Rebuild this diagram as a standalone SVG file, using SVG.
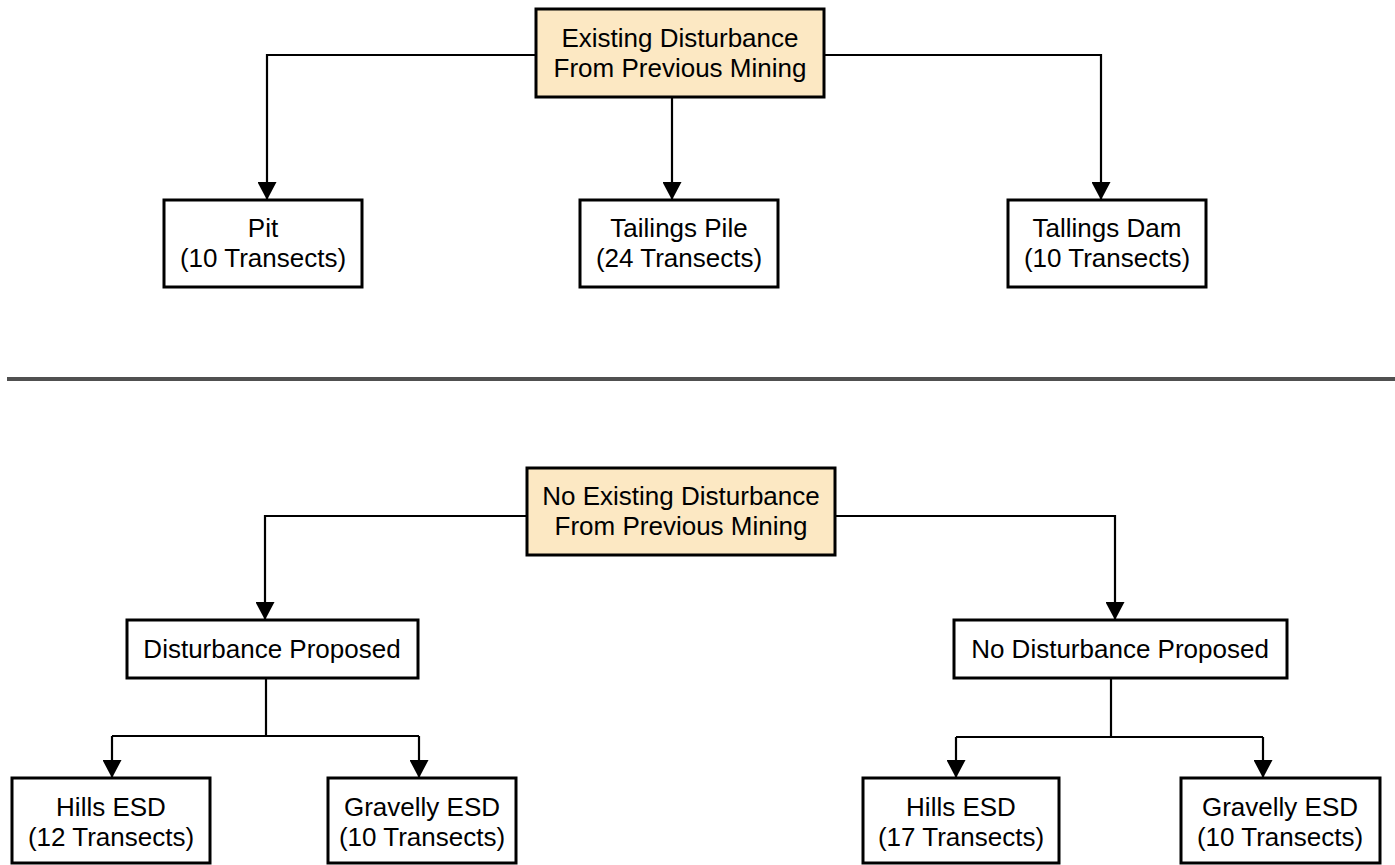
<svg xmlns="http://www.w3.org/2000/svg" width="1395" height="865" viewBox="0 0 1395 865">
<style>
.box{fill:#ffffff;stroke:#000;stroke-width:3}
.hdr{fill:#fce8c3;stroke:#000;stroke-width:3}
.t{font-family:"Liberation Sans",Arial,sans-serif;font-size:26px;fill:#000;text-anchor:middle}
.c{fill:none;stroke:#000;stroke-width:2.2}
</style>
<defs>
<marker id="ah" markerUnits="userSpaceOnUse" markerWidth="18" markerHeight="19" refX="17" refY="9.5" orient="auto" viewBox="0 0 18 19">
<path d="M0,0 L18,9.5 L0,19 z" fill="#000"/>
</marker>
</defs>
<rect x="0" y="0" width="1395" height="865" fill="#fff"/>
<g id="connectors">
<path class="c" d="M536,55 H267 V199" marker-end="url(#ah)"/>
<path class="c" d="M672,97 V199" marker-end="url(#ah)"/>
<path class="c" d="M824,55 H1101 V199" marker-end="url(#ah)"/>
<path class="c" d="M527,516 H265 V619" marker-end="url(#ah)"/>
<path class="c" d="M835,516 H1115 V619" marker-end="url(#ah)"/>
<path class="c" d="M266,678 V736"/>
<path class="c" d="M112,736 H419"/>
<path class="c" d="M112,736 V777" marker-end="url(#ah)"/>
<path class="c" d="M419,736 V777" marker-end="url(#ah)"/>
<path class="c" d="M1111,678 V737"/>
<path class="c" d="M956,737 H1263"/>
<path class="c" d="M956,737 V777" marker-end="url(#ah)"/>
<path class="c" d="M1263,737 V777" marker-end="url(#ah)"/>
</g>
<line id="separator" x1="7" y1="379" x2="1395" y2="379" stroke="#505050" stroke-width="4"/>
<g id="n-existing">
<rect class="hdr" x="536" y="9" width="288" height="88"/>
<text class="t" x="680" y="47">Existing Disturbance</text>
<text class="t" x="680" y="77">From Previous Mining</text>
</g>
<g id="n-pit">
<rect class="box" x="164" y="200" width="198" height="87"/>
<text class="t" x="263" y="237">Pit</text>
<text class="t" x="263" y="267">(10 Transects)</text>
</g>
<g id="n-tailings-pile">
<rect class="box" x="580" y="200" width="198" height="87"/>
<text class="t" x="679" y="237">Tailings Pile</text>
<text class="t" x="679" y="267">(24 Transects)</text>
</g>
<g id="n-tailings-dam">
<rect class="box" x="1008" y="200" width="198" height="87"/>
<text class="t" x="1107" y="237">Tallings Dam</text>
<text class="t" x="1107" y="267">(10 Transects)</text>
</g>
<g id="n-no-existing">
<rect class="hdr" x="527" y="468" width="308" height="87"/>
<text class="t" x="681" y="505">No Existing Disturbance</text>
<text class="t" x="681" y="535">From Previous Mining</text>
</g>
<g id="n-dist-proposed">
<rect class="box" x="127" y="620" width="291" height="58"/>
<text class="t" x="272" y="658">Disturbance Proposed</text>
</g>
<g id="n-no-dist-proposed">
<rect class="box" x="954" y="620" width="333" height="58"/>
<text class="t" x="1120" y="658">No Disturbance Proposed</text>
</g>
<g id="n-hills-12">
<rect class="box" x="12" y="778" width="198" height="85"/>
<text class="t" x="111" y="816">Hills ESD</text>
<text class="t" x="111" y="846">(12 Transects)</text>
</g>
<g id="n-gravelly-10a">
<rect class="box" x="328" y="778" width="188" height="85"/>
<text class="t" x="422" y="816">Gravelly ESD</text>
<text class="t" x="422" y="846">(10 Transects)</text>
</g>
<g id="n-hills-17">
<rect class="box" x="863" y="778" width="196" height="85"/>
<text class="t" x="961" y="816">Hills ESD</text>
<text class="t" x="961" y="846">(17 Transects)</text>
</g>
<g id="n-gravelly-10b">
<rect class="box" x="1181" y="778" width="199" height="85"/>
<text class="t" x="1280" y="816">Gravelly ESD</text>
<text class="t" x="1280" y="846">(10 Transects)</text>
</g>
</svg>
